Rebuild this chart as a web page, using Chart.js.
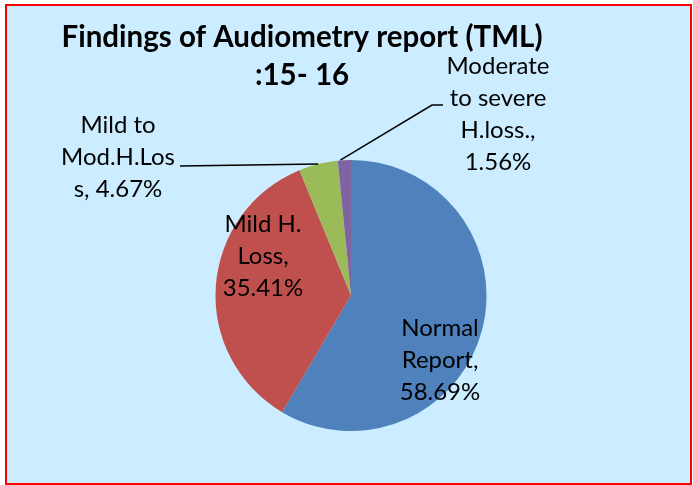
<!DOCTYPE html>
<html>
<head>
<meta charset="utf-8">
<script src="https://cdn.jsdelivr.net/npm/chart.js@4"></script>
<style>
  html, body { margin: 0; padding: 0; background: #ffffff; }
  #wrap { position: absolute; left: 0; top: 0; width: 693px; height: 485px; }
</style>
</head>
<body>
<div id="wrap"><canvas id="c" width="693" height="485"></canvas></div>
<script>
// ---- data ----
const categories = ['Normal Report', 'Mild H. Loss', 'Mild to Mod.H.Loss', 'Moderate to severe H.loss.'];
const values = [58.69, 35.41, 4.67, 1.56];
const labelLines = [
  ['Normal', 'Report,', '58.69%'],
  ['Mild H.', 'Loss,', '35.41%'],
  ['Mild to', 'Mod.H.Los', 's, 4.67%'],
  ['Moderate', 'to severe', 'H.loss.,', '1.56%']
];
const titleLines = ['Findings of Audiometry report (TML)', ':15- 16'];
const colors = ['#4F81BD', '#C0504D', '#9BBB59', '#8064A2'];

const FONT = 'Lato, "Open Sans", sans-serif';

function fitSize(ctx, text, weight, targetW, base) {
  ctx.font = weight + ' ' + base + 'px ' + FONT;
  const w = ctx.measureText(text).width;
  return base * targetW / w;
}

const decor = {
  id: 'decor',
  beforeDraw(chart) {
    const ctx = chart.ctx;
    ctx.save();
    ctx.fillStyle = '#ffffff';
    ctx.fillRect(0, 0, chart.width, chart.height);
    ctx.fillStyle = '#CCECFF';
    ctx.fillRect(6, 5, 685, 479);
    ctx.strokeStyle = '#FF0000';
    ctx.lineWidth = 2;
    ctx.strokeRect(6, 5, 685, 479);
    ctx.restore();
  },
  afterDraw(chart) {
    const ctx = chart.ctx;
    const arcs = chart.getDatasetMeta(0).data;
    ctx.save();
    // title
    const tSize = fitSize(ctx, titleLines[0], 'bold', 481, 28);
    ctx.font = 'bold ' + tSize + 'px ' + FONT;
    ctx.fillStyle = '#000000';
    ctx.textAlign = 'center';
    ctx.textBaseline = 'alphabetic';
    ctx.fillText(titleLines[0], 302, 47);
    ctx.fillText(titleLines[1], 302, 85);

    // leader lines, ending at the slice's outer mid-arc
    function outerMid(a) {
      const p = a.getProps(['x', 'y', 'startAngle', 'endAngle', 'outerRadius'], true);
      const m = (p.startAngle + p.endAngle) / 2;
      return { x: p.x + Math.cos(m) * p.outerRadius, y: p.y + Math.sin(m) * p.outerRadius };
    }
    ctx.strokeStyle = '#000000';
    ctx.lineWidth = 1.5;
    const g = outerMid(arcs[2]);
    ctx.beginPath();
    ctx.moveTo(180, 166);
    ctx.lineTo(g.x, g.y);
    ctx.stroke();
    const pu = outerMid(arcs[3]);
    ctx.beginPath();
    ctx.moveTo(443, 105);
    ctx.lineTo(432, 105);
    ctx.lineTo(pu.x - 4, pu.y);
    ctx.stroke();

    // data labels
    const lSize = fitSize(ctx, 'Mod.H.Los', 'normal', 114, 26);
    ctx.font = 'normal ' + lSize + 'px ' + FONT;
    const pos = [
      { x: 440, y: 336 },
      { x: 263, y: 232 },
      { x: 118, y: 133 },
      { x: 498, y: 74 }
    ];
    const lh = 32;
    labelLines.forEach((lines, i) => {
      lines.forEach((t, j) => ctx.fillText(t, pos[i].x, pos[i].y + j * lh));
    });
    ctx.restore();
  }
};

new Chart(document.getElementById('c'), {
  type: 'pie',
  data: {
    labels: categories,
    datasets: [{
      data: values,
      backgroundColor: colors,
      borderWidth: 0
    }]
  },
  options: {
    responsive: false,
    animation: false,
    layout: { padding: { left: 215, right: 206, top: 160, bottom: 54 } },
    plugins: {
      legend: { display: false },
      tooltip: { enabled: false },
      title: { display: false }
    }
  },
  plugins: [decor]
});
</script>
</body>
</html>
